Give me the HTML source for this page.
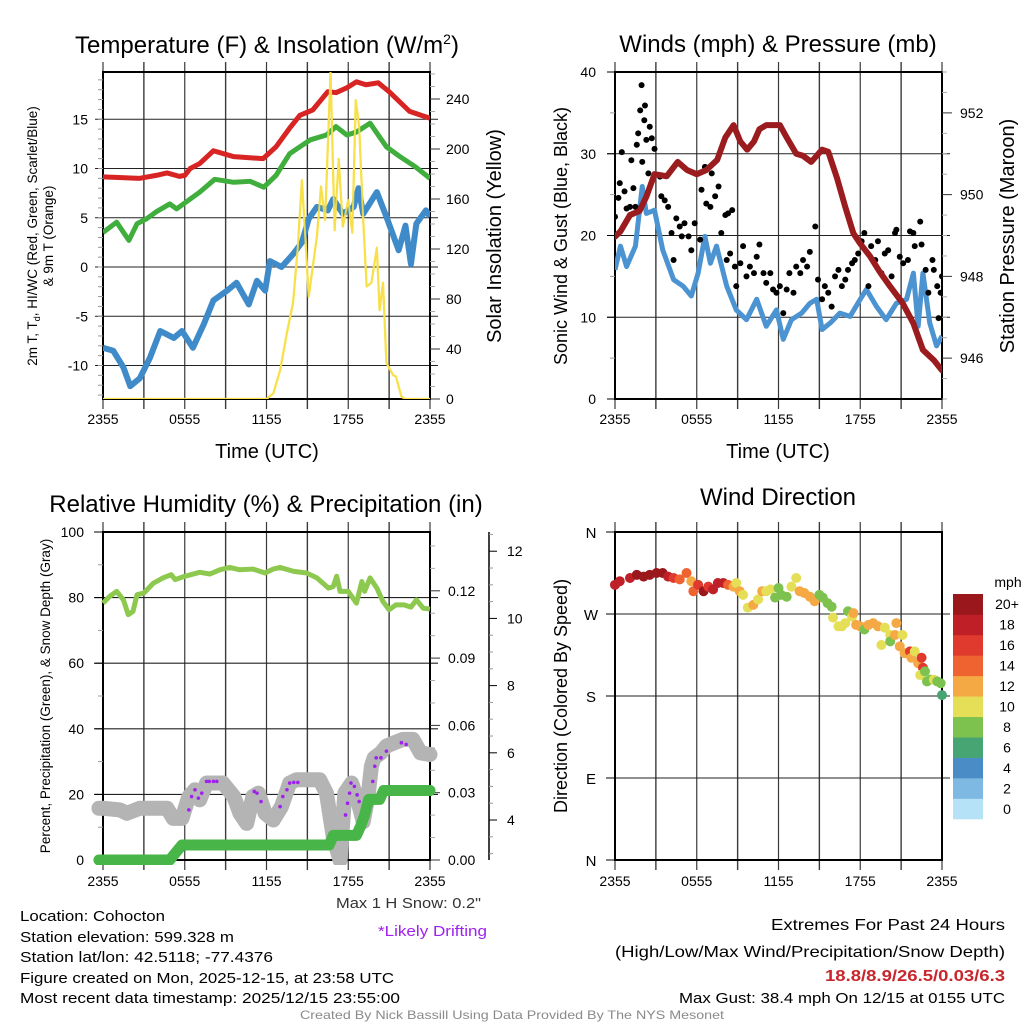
<!DOCTYPE html>
<html><head><meta charset="utf-8"><title>Cohocton Meteogram</title>
<style>
html,body{margin:0;padding:0;background:#fff;}
svg{display:block;font-family:"Liberation Sans",Arial,sans-serif;}
</style></head>
<body>
<svg id="fig" width="1024" height="1024" viewBox="0 0 1024 1024" xmlns="http://www.w3.org/2000/svg">
<defs>
<clipPath id="c1"><rect x="103" y="72" width="327" height="327"/></clipPath>
<clipPath id="c2"><rect x="615" y="72" width="327" height="327"/></clipPath>
<clipPath id="c3"><rect x="90" y="520" width="360" height="345"/></clipPath>
<clipPath id="c4"><rect x="600" y="525" width="350" height="340"/></clipPath>
</defs>
</svg>
<script>
// ---------- DATA ----------
const tempTimes=[0,2.7,3.9,4.7,5.6,6.0,6.4,7.1,8.1,9.6,11.75,12.7,13.7,14.45,15.4,16.5,17.1,17.9,18.6,19.3,20.2,21,22.5,24];
const tempValues=[9.15,9.0,9.3,9.55,9.2,9.3,10.0,10.5,11.8,11.2,11.0,12.2,14.1,15.4,15.95,17.8,17.7,18.2,18.8,18.5,18.7,17.8,15.8,15.1];
const hiwcTimes=[0,1,1.9,2.5,3.2,3.9,4.9,5.4,6.1,7.1,8.2,9.6,10.8,11.8,12.7,13.7,15.2,16.4,17.1,17.9,18.6,19.6,20.8,21.8,22.9,24];
const hiwcValues=[3.5,4.55,2.7,4.4,4.9,5.6,6.4,5.9,6.6,7.6,8.9,8.6,8.7,8.1,9.3,11.5,12.9,13.4,14.25,13.4,13.7,14.6,12.2,11.2,10.2,9.0];
const dewTimes=[0,0.75,1.5,2,2.7,3.45,4.2,5.2,5.8,6.6,7.4,8.1,9.1,9.8,10.7,11.3,11.9,12.25,13.1,13.95,14.6,15.1,15.7,16.5,16.9,17.6,18.4,18.75,19.1,20.1,20.8,21.7,22.2,22.6,23,23.7,24];
const dewValues=[-8.2,-8.5,-10.2,-12.1,-11.3,-9.2,-6.5,-7.2,-6.5,-8.2,-5.8,-3.4,-2.4,-1.6,-3.8,-1.4,-2.4,0.6,0.0,1.3,2.5,4.9,6.1,5.75,6.9,5.4,6.1,8.0,5.4,7.6,5.1,1.7,4.2,0.3,4.4,5.75,5.1];
const solarTimes=[0,12.0,12.5,13,13.5,13.95,14.3,14.6,14.8,15.1,15.4,15.7,16,16.3,16.7,17,17.3,17.6,18,18.3,18.55,18.8,19.1,19.35,19.7,20.1,20.3,20.55,20.8,21.3,21.5,21.9,22.15,24];
const solarValues=[0,0,4.5,23,53,77,122,175,138,82,106,130,170,143,261,135,192,138,159,133,239,218,143,90,93,121,71,93,29,19,18,2,0,0];
const tempTicks=[15,10,5,0,-5,-10];
const solarTicks=[0,40,80,120,160,200,240];
const timeTickLabels=["2355","0555","1155","1755","2355"];

const presTimes=[0,0.4,1.1,1.8,2.3,2.9,3.8,4.6,5.3,6,6.7,7.5,8.1,8.7,9.2,9.7,10.2,10.6,11.1,12.1,12.6,13.3,13.8,14.4,15.2,15.65,16.3,16.9,17.5,18,18.7,19.45,20.2,21.1,21.9,22.6,23.4,24];
const presValues=[948.97,949.1,949.5,949.6,949.95,950.5,950.45,950.8,950.6,950.5,950.6,950.85,951.4,951.7,951.3,951.1,951.3,951.6,951.7,951.7,951.4,951.0,950.95,950.8,951.1,951.05,950.4,949.7,949.05,948.8,948.5,948.1,947.75,947.35,946.85,946.2,945.95,945.7];
const windTimes=[0,0.4,0.85,1.5,2,2.3,2.9,3.5,4.3,5,5.6,6.1,6.6,7,7.45,8.2,8.9,9.65,10.4,11.1,11.85,12.35,12.95,13.7,14.3,14.8,15.2,15.8,16.5,17.25,18,18.45,19.2,19.9,20.65,21.4,21.9,22.25,22.6,23.1,23.6,24];
const windValues=[15.8,18.7,16.2,18.7,26,22.7,23.1,18.25,14.6,13.8,12.6,15.4,19.9,16.6,18.7,13.8,10.9,9.7,12.2,8.9,10.9,7.3,9.7,10.5,11.7,12.2,8.5,9.3,10.5,10.1,12.2,13.4,11.3,9.7,11.7,12.2,15.4,8.9,15.4,9.3,6.5,7.7];
const gustTimes=[0,0.25,0.5,0.35,0.7,0.85,1.1,1.2,1.5,1.35,1.6,1.7,1.85,1.95,2,2.15,2.2,2.3,2.55,2.7,2.9,2.45,3.3,3.4,3.65,3.9,4.15,4.3,4.5,4.75,4.9,5.1,5.4,5.6,5.85,6.25,6.35,6.6,6.7,7,7.1,7.35,7.6,7.8,8.1,8.3,8.6,8.2,8.45,8.8,8.9,9.2,9.4,9.65,9.9,10.2,10.4,10.6,10.9,11.1,11.4,11.6,11.85,12.1,12.35,12.6,12.8,13.1,13.3,13.6,13.8,14.1,14.3,14.7,14.9,15.2,15.4,15.65,15.9,16.15,16.4,16.65,16.9,17.1,17.4,17.6,17.85,18.1,18.3,18.6,18.8,19.1,19.3,19.55,19.8,20.05,20.3,20.55,20.65,20.9,21.15,21.5,21.65,21.9,22,22.4,22.5,22.8,23,23.3,23.4,23.65,23.75,23.9,24];
const gustValues=[22.3,24.6,30.2,26.4,25.4,23.3,23.5,29.2,23.5,25.8,31.1,32.5,35.3,38.4,29,34.1,35.9,31.7,33.3,31.9,30.6,27.6,27.2,24.8,24.3,23.5,20.3,17,22.1,21.1,19.9,21.5,19.9,18.2,21.5,19.5,25.6,28.4,23.9,23.5,27.6,24.8,26,20.3,22.5,22.7,23.1,17,17.8,16.2,13.8,16.6,18.7,15,16.2,15.4,17.4,18.9,15.4,14.2,15.4,13.4,13,13.8,10.5,13.4,15.4,13,16.2,15.4,17,16.2,18,21.1,14.6,12.2,13.8,13,11.3,15,15.8,13.8,14.6,15.8,16.6,17,17.8,19.3,20.3,13.8,18.7,17,19.3,15.4,17.8,18.2,15,20.3,20.7,17.4,16.6,17,20.5,20.3,18.7,21.7,18.9,15.8,13,17,15.8,13.8,9.9,13,15];
const windTicks=[0,10,20,30,40];
const presTicks=[946,948,950,952];

const rhTimes=[0,0.5,1,1.5,1.85,2.2,2.5,3,3.7,4.4,5,5.3,6,7.1,7.85,8.6,9.3,10,11,11.9,12.5,13,14,14.95,15.7,16.55,16.9,17.15,17.4,18,18.6,19,19.2,19.6,20.1,20.55,21,21.5,22.1,22.6,23,23.5,24];
const rhValues=[78.3,80.4,81.9,79.3,74.8,75.8,80.9,81.4,84.4,86,87,85.5,86.5,87.7,87.2,88.5,89.2,88.5,88.7,87.5,88.7,89.2,88,87.5,86,82.9,83.4,86.5,81.9,81.9,78.3,84.9,81.9,86,82.9,78.8,76.3,77.8,77.8,77.1,79.3,76.8,76.5];
const snowTimes=[-0.3,0,1.25,1.75,2.7,4.7,5.15,5.8,6.3,6.75,7.1,7.6,8.1,8.8,9.6,10.05,10.55,11,11.4,11.9,12.5,13.1,13.7,14.2,15.9,16.4,16.9,17.4,17.75,18.25,18.75,19.1,19.45,19.7,19.9,20.4,20.8,21.4,22,22.75,23.3,24];
const snowValues=[4.35,4.35,4.3,4.2,4.35,4.35,4.05,4.05,4.7,4.9,4.6,5.1,5.1,5.1,4.7,4.2,3.9,4.7,4.8,4.2,4.0,4.4,5.1,5.2,5.2,4.8,3.5,2.8,4.8,5.1,4.5,3.95,4.7,5.6,5.85,6.0,6.2,6.3,6.4,6.4,6.0,5.95];
const driftTimes=[6.3,6.5,6.75,7.0,7.25,7.6,7.8,8.1,8.35,11.1,11.3,11.6,13.0,13.2,13.5,13.7,14.0,14.3,17.8,17.95,18.1,18.2,18.45,18.65,18.8,19.8,19.95,20.05,20.4,20.8,21.9,22.25];
const driftValues=[4.3,4.7,4.9,4.65,4.8,5.15,5.15,5.15,5.15,4.85,4.8,4.55,4.4,4.7,4.9,5.1,5.12,5.12,4.15,4.5,4.8,5.1,5.0,4.75,4.55,5.15,5.6,5.85,5.85,6.05,6.3,6.25];
const precipTimes=[-0.3,4.9,5.3,5.8,16.6,16.9,18.6,18.9,19.2,19.5,20.3,20.6,24];
const precipValues=[0,0,0.003,0.0067,0.0067,0.011,0.011,0.015,0.02,0.027,0.027,0.031,0.031];
const rhTicks=[0,20,40,60,80,100];
const precipTicks=[0,0.03,0.06,0.09,0.12];
const snowTicks=[4,6,8,10,12];

const dirTimes=[0,0.35,1.1,1.6,2.1,2.55,3.05,3.5,3.9,4.3,4.75,5.25,5.6,5.75,6.1,6.5,6.85,7.2,7.55,7.95,8.3,8.7,8.9,9.15,9.4,9.75,10.15,10.5,10.8,11.1,11.4,11.75,12,12.2,12.6,12.95,13.3,13.55,13.9,14.3,14.65,15,15.25,15.6,15.9,16,16.4,16.65,16.9,17.1,17.4,17.5,17.7,18,18.3,18.6,18.95,19.3,19.55,19.8,20.2,20.2,20.55,20.65,20.9,21.1,21.25,21.65,21.75,22,22.25,22.5,22.6,22.4,22.75,22.9,23.15,23.4,23.65,23.9,24];
const dirValues=[302,306,309.5,313,311,313,315,315,311,309.5,308,315,306,295,302,295,300,297,304,304,302,300,304,295,291,277,280,286,295,295,297,288,298.5,291,289,300,309.5,295,293,289,284,291,288,282,278,266,256.5,256.5,260,273,267,271,258,256.5,253,258,260,256.5,236,255,247,240,247,260,234.5,247,227,229,222,229,216,222,211,203,207,196,198,198,196,194,181];
const dirSpeeds=[18,18,18,20,20,20,20,20,18,16,14,14,12,14,16,20,16,18,18,18,14,12,10,12,10,10,12,10,12,10,10,8,8,8,8,10,10,12,12,12,12,8,8,8,8,10,10,10,10,8,10,12,12,12,8,12,12,12,10,10,10,8,12,12,12,10,12,16,12,10,12,16,16,10,8,8,8,10,8,8,6];
const dirTickLabels=["N","E","S","W","N"];
const speedBinLabels=["0","2","4","6","8","10","12","14","16","18","20+"];
const speedBinColors=["#b5e2f7","#7db9e2","#4a8cc6","#47a473","#7dc24f","#e5df58","#f5a945","#ee6330","#e03a2e","#bf1f26","#9a171c"];

// ---------- HELPERS ----------
const NS="http://www.w3.org/2000/svg";
const svg=document.getElementById('fig');
function mk(tag,attrs,parent){const e=document.createElementNS(NS,tag);for(const k in attrs)e.setAttribute(k,attrs[k]);(parent||svg).appendChild(e);return e;}
function txt(s,x,y,size,anchor,parent,extra){const e=mk('text',Object.assign({x:x,y:y,'font-size':size,'text-anchor':anchor||'middle',fill:'#000'},extra||{}),parent);e.textContent=s;return e;}
function path(xs,ys){let d='';for(let i=0;i<xs.length;i++)d+=(i?'L':'M')+xs[i].toFixed(2)+','+ys[i].toFixed(2);return d;}
function group(){return mk('g',{});}

const hourW=327/24;
const X1=t=>103+t*hourW, X2=t=>615+t*hourW;
const YT=v=>267-v*9.85, YS=w=>399-w*1.25;
const YW=v=>399-v*8.175, YP=p=>399-(p-945)*40.875;
const YR=v=>860-v*3.28, YPr=p=>860-p*2243.3, YSn=d=>860-(d-2.81)*33.6;
const YD=d=>860-d*(328/360);

function panelFrame(g,L,R,T,B,X,gridYs){
  for(let h=0;h<=24;h+=3){const x=X(h);
    const l=mk('line',{x1:x,y1:T-10,x2:x,y2:B+10,stroke:'#3a3a3a','stroke-width':(h%6===0?1.2:1.4)},g);
    
    }
  gridYs.forEach(y=>{const l=mk('line',{x1:L-8,y1:y,x2:R+8,y2:y,stroke:'#222','stroke-width':1.1},g);
    
    });
  const r=mk('rect',{x:L,y:T,width:R-L,height:B-T,fill:'none',stroke:'#000','stroke-width':2},g);
  
  
}
function timeLabels(g,X,y){
  timeTickLabels.forEach((s,i)=>{const t=txt(s,X(i*6),y,14,'middle',g);
    
    });
}

// ---------- PANEL 1 ----------
(function(){
const g=group();


panelFrame(g,103,430,72,399,X1,tempTicks.map(YT));
tempTicks.forEach(v=>{const t=txt(String(v),88,YT(v)+5,14,'end',g);
  
  });
for(let v=-13;v<=19;v++){const m=mk('line',{x1:98,y1:YT(v),x2:103,y2:YT(v),stroke:'#999','stroke-width':1},g);
  
  }
solarTicks.forEach(v=>{const t=txt(String(v),446,YS(v)+5,14,'start',g);
  
  });
for(let v=0;v<=260;v+=10){const m=mk('line',{x1:430,y1:YS(v),x2:(v%40===0?440:435),y2:YS(v),stroke:(v%40===0?'#333':'#aaa'),'stroke-width':1},g);
  
  }
timeLabels(g,X1,424);
const cg=mk('g',{'clip-path':'url(#c1)'},g);
const s1=mk('path',{d:path(solarTimes.map(X1),solarValues.map(YS)),fill:'none',stroke:'#f7e04a','stroke-width':2.2,'stroke-linejoin':'round'},cg);


const s2=mk('path',{d:path(dewTimes.map(X1),dewValues.map(YT)),fill:'none',stroke:'#3f8bc9','stroke-width':6,'stroke-linejoin':'round'},cg);


const s3=mk('path',{d:path(hiwcTimes.map(X1),hiwcValues.map(YT)),fill:'none',stroke:'#3fae3c','stroke-width':5,'stroke-linejoin':'round'},cg);


const s4=mk('path',{d:path(tempTimes.map(X1),tempValues.map(YT)),fill:'none',stroke:'#d92424','stroke-width':5,'stroke-linejoin':'round'},cg);


const s5=mk('path',{d:path(solarTimes.map(X1),solarValues.map(YS)),fill:'none',stroke:'#f7e04a','stroke-width':2,'stroke-linejoin':'round',opacity:0.9},cg);


const ti=txt('',267,53,24,'middle',g);
ti.innerHTML='Temperature (F) &amp; Insolation (W/m<tspan dy="-9" font-size="14">2</tspan><tspan dy="9">)</tspan>';


const xt=txt('Time (UTC)',267,458,20,'middle',g);


const yt=mk('text',{transform:'translate(37,236) rotate(-90)','font-size':13.5,'text-anchor':'middle'},g);
yt.innerHTML='2m T, T<tspan dy="3" font-size="9">d</tspan><tspan dy="-3">, HI/WC (Red, Green, Scarlet/Blue)</tspan>';


const yt2=txt('& 9m T (Orange)',0,0,13.5,'middle',g,{transform:'translate(53,236) rotate(-90)'});


const yr=txt('Solar Insolation (Yellow)',0,0,20,'middle',g,{transform:'translate(501,236) rotate(-90)'});


})();

// ---------- PANEL 2 ----------
(function(){
const g=group();


panelFrame(g,615,942,72,399,X2,[10,20,30].map(YW));
windTicks.forEach(v=>{const t=txt(String(v),596,YW(v)+5,14,'end',g);
  
  
  const m=mk('line',{x1:607,y1:YW(v),x2:615,y2:YW(v),stroke:'#000'},g);
  
  });
[5,15,25,35].forEach(v=>{const m=mk('line',{x1:610,y1:YW(v),x2:615,y2:YW(v),stroke:'#999'},g);
  
  });
presTicks.forEach(v=>{const t=txt(String(v),960,YP(v)+5,14,'start',g);
  
  });
for(let p=945;p<=953;p+=0.5){const m=mk('line',{x1:942,y1:YP(p),x2:(p%2===0?952:947),y2:YP(p),stroke:(p%2===0?'#333':'#aaa')},g);
  
  }
timeLabels(g,X2,424);
const cg=mk('g',{'clip-path':'url(#c2)'},g);
const w=mk('path',{d:path(windTimes.map(X2),windValues.map(YW)),fill:'none',stroke:'#4b94d1','stroke-width':5,'stroke-linejoin':'round'},cg);


gustTimes.forEach((t,i)=>{const c=mk('circle',{cx:X2(t),cy:YW(gustValues[i]),r:3,fill:'#000'},cg);
  
  });
const p=mk('path',{d:path(presTimes.map(X2),presValues.map(YP)),fill:'none',stroke:'#9b1c1f','stroke-width':6,'stroke-linejoin':'round','stroke-linecap':'round'},cg);


const ti=txt('Winds (mph) & Pressure (mb)',778,52,24,'middle',g);


const xt=txt('Time (UTC)',778,458,20,'middle',g);


const yl=txt('Sonic Wind & Gust (Blue, Black)',0,0,18,'middle',g,{transform:'translate(567,236) rotate(-90)'});


const yr=txt('Station Pressure (Maroon)',0,0,20,'middle',g,{transform:'translate(1014,236) rotate(-90)'});


})();

// ---------- PANEL 3 ----------
(function(){
const g=group();


panelFrame(g,103,430,532,860,X1,[20,40,60,80].map(YR));
rhTicks.forEach(v=>{const t=txt(String(v),84,YR(v)+5,14,'end',g);
  
  
  const m=mk('line',{x1:94,y1:YR(v),x2:103,y2:YR(v),stroke:'#000'},g);
  
  });
[10,30,50,70,90].forEach(v=>{const m=mk('line',{x1:98,y1:YR(v),x2:103,y2:YR(v),stroke:'#999'},g);
  
  });
precipTicks.forEach(v=>{const t=txt(v.toFixed(2),448,YPr(v)+5,14,'start',g);
  
  
  const m=mk('line',{x1:430,y1:YPr(v),x2:440,y2:YPr(v),stroke:'#333'},g);
  
  });
for(let v=0.01;v<0.146;v+=0.01){if(Math.abs(v*100-Math.round(v*100/3)*3)<0.01)continue;const m=mk('line',{x1:430,y1:YPr(v),x2:435,y2:YPr(v),stroke:'#aaa'},g);
  
  }
const sa=mk('line',{x1:489,y1:532,x2:489,y2:860,stroke:'#000','stroke-width':1.5},g);


snowTicks.forEach(v=>{const t=txt(String(v),507,YSn(v)+5,14,'start',g);
  
  
  const m=mk('line',{x1:489,y1:YSn(v),x2:497,y2:YSn(v),stroke:'#000'},g);
  
  });
for(let v=3;v<=12.5;v+=0.5){if(v%2===0)continue;const m=mk('line',{x1:489,y1:YSn(v),x2:493,y2:YSn(v),stroke:'#999'},g);
  
  }
timeLabels(g,X1,886);
const cg=mk('g',{'clip-path':'url(#c3)'},g);
const sn=mk('path',{d:path(snowTimes.map(X1),snowValues.map(YSn)),fill:'none',stroke:'#b4b4b4','stroke-width':15,'stroke-linejoin':'round','stroke-linecap':'round'},cg);


driftTimes.forEach((t,i)=>{const c=mk('circle',{cx:X1(t),cy:YSn(driftValues[i]),r:1.8,fill:'#a020f0'},cg);
  
  });
const pxs=[],pys=[];
precipTimes.forEach((t,i)=>{pxs.push(X1(t));pys.push(YPr(precipValues[i]));});
const pr=mk('path',{d:path(pxs,pys),fill:'none',stroke:'#47b547','stroke-width':11,'stroke-linejoin':'round','stroke-linecap':'round'},cg);


const rh=mk('path',{d:path(rhTimes.map(X1),rhValues.map(YR)),fill:'none',stroke:'#8dc84f','stroke-width':5,'stroke-linejoin':'round'},cg);


const ti=txt('Relative Humidity (%) & Precipitation (in)',266,512,24,'middle',g);


const yl=txt('Percent, Precipitation (Green), & Snow Depth (Gray)',0,0,13.5,'middle',g,{transform:'translate(50,696) rotate(-90)'});


})();

// ---------- PANEL 4 ----------
(function(){
const g=group();


panelFrame(g,615,942,532,860,X2,[90,180,270].map(YD));
dirTickLabels.forEach((s,i)=>{const t=txt(s,591,YD(i*90)+6,15,'middle',g);
  
  
  const m=mk('line',{x1:606,y1:YD(i*90),x2:615,y2:YD(i*90),stroke:'#000'},g);
  
  });
timeLabels(g,X2,886);
const cg=mk('g',{'clip-path':'url(#c4)'},g);
dirTimes.forEach((t,i)=>{const bin=Math.min(10,Math.floor(dirSpeeds[i]/2));
  const c=mk('circle',{cx:X2(t),cy:YD(dirValues[i]),r:5,fill:speedBinColors[bin]},cg);
  
  });
const ti=txt('Wind Direction',778,505,24,'middle',g);


const yl=txt('Direction (Colored By Speed)',0,0,18,'middle',g,{transform:'translate(567,696) rotate(-90)'});


const cb=mk('g',{},g);


const bh=(819-594)/11;
speedBinLabels.forEach((s,i)=>{const y=819-(i+1)*bh;
  const r=mk('rect',{x:953,y:y,width:30,height:bh+0.3,fill:speedBinColors[i]},cb);
  
  
  const t=txt(s,1007,y+bh/2+5,14,'middle',cb);
  
  });
const u=txt('mph',1008,587,14,'middle',cb);


})();

// ---------- FOOTER ----------
(function(){
const g=group();


const left=[["Location: Cohocton",921,145],["Station elevation: 599.328 m",942,214],["Station lat/lon: 42.5118; -77.4376",962,253],["Figure created on Mon, 2025-12-15, at 23:58 UTC",983,374],["Most recent data timestamp: 2025/12/15 23:55:00",1003,380]];
left.forEach(a=>{const t=txt(a[0],20,a[1],15,'start',g,{textLength:a[2],lengthAdjust:'spacingAndGlyphs'});
  
  });
const ms=txt('Max 1 H Snow: 0.2"',481,908,15,'end',g,{fill:'#333',textLength:145,lengthAdjust:'spacingAndGlyphs'});


const ld=txt('*Likely Drifting',487,936,15,'end',g,{fill:'#a020f0',textLength:109,lengthAdjust:'spacingAndGlyphs'});


const r1=txt('Extremes For Past 24 Hours',1005,930,16,'end',g,{textLength:234,lengthAdjust:'spacingAndGlyphs'});


const r2=txt('(High/Low/Max Wind/Precipitation/Snow Depth)',1005,957,16,'end',g,{textLength:390,lengthAdjust:'spacingAndGlyphs'});


const r3=txt('18.8/8.9/26.5/0.03/6.3',1005,981,16,'end',g,{fill:'#c8262c','font-weight':'bold',textLength:180,lengthAdjust:'spacingAndGlyphs'});


const r4=txt('Max Gust: 38.4 mph On 12/15 at 0155 UTC',1005,1003,15,'end',g,{textLength:326,lengthAdjust:'spacingAndGlyphs'});


const cr=txt('Created By Nick Bassill Using Data Provided By The NYS Mesonet',512,1019,12,'middle',g,{fill:'#8a8a8a',textLength:424,lengthAdjust:'spacingAndGlyphs'});


})();
</script>
</body></html>
